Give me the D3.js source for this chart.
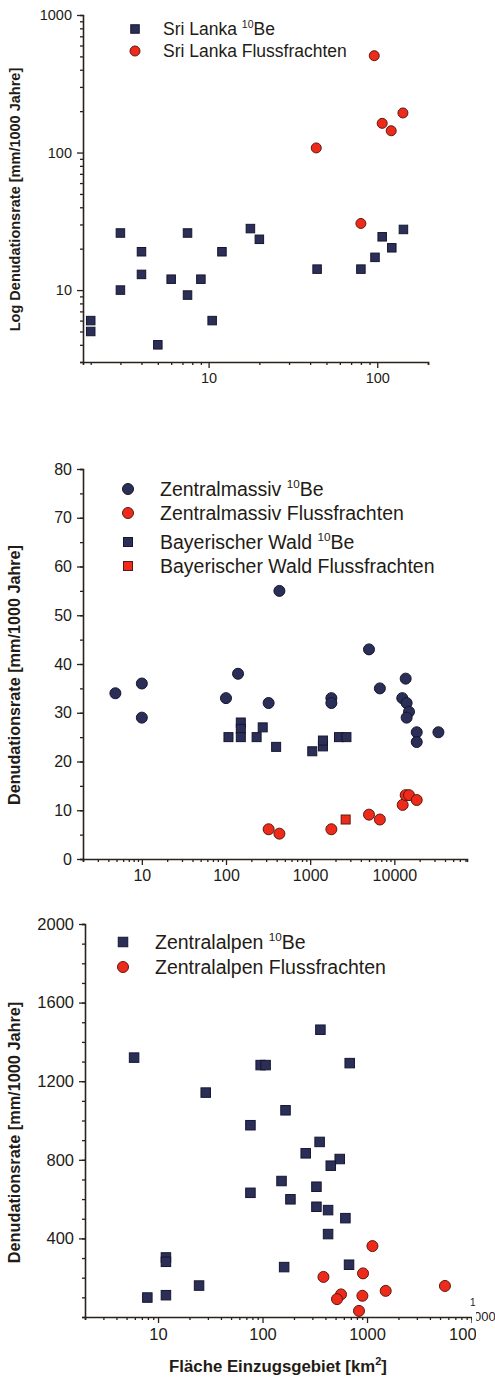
<!DOCTYPE html>
<html>
<head>
<meta charset="utf-8">
<script src="https://cdn.jsdelivr.net/npm/d3@7/dist/d3.min.js"></script>
<style>
  body { margin: 0; background: #fff; }
  svg { display: block; }
  text { font-family: Arial, "Liberation Sans", sans-serif; fill: #231b15; }
</style>
</head>
<body>
<div id="chart"></div>
<script>
// ---- data: [Fläche km², Denudationsrate mm/1000 Jahre] ----
const sriLankaBe = [
  [2.0, 6.0], [2.0, 5.0], [3.0, 26], [3.0, 10], [4.0, 19], [4.0, 13], [5.0, 4.0],
  [6.0, 12], [7.5, 26], [7.5, 9.2], [9.0, 12], [10.5, 6.0], [12, 19], [17.7, 28],
  [20, 23.4], [44, 14.2], [80, 14.2], [97, 17.3], [107, 24.4], [122, 20.3], [143, 27.6]
];
const sriLankaFluss = [
  [80, 30.5], [96, 506], [142, 194], [107, 163], [121, 144], [43.5, 108]
];

const zmBe = [
  [4.85, 34], [10, 36], [10, 29], [100, 33], [139, 38], [431, 55], [5000, 43], [321, 32],
  [1786, 33], [1786, 32], [6730, 35], [13640, 37], [12420, 33], [14000, 32], [14940, 30.2],
  [14000, 29], [18450, 26], [18450, 24], [33400, 26]
];
const zmFluss = [
  [321, 6.1], [431, 5.2], [1786, 6.1], [5000, 9.1], [6730, 8.1],
  [12560, 11.1], [13640, 13.1], [14940, 13.1], [18450, 12.1]
];
const bwBe = [
  [107, 25], [150, 28], [150, 26.7], [150, 25], [231, 25], [273, 27], [394, 23],
  [1059, 22.1], [1418, 23.1], [1418, 24.3], [2200, 25], [2697, 25]
];
const bwFluss = [[2640, 8.1]];

const alpenBe = [
  [5.9, 1320], [28.6, 1142], [358, 1462], [96, 1282], [107, 1282], [683, 1292], [166, 1052],
  [76.6, 976], [7.9, 99], [11.9, 111], [11.9, 303], [11.9, 281], [24.7, 160], [76.6, 632],
  [352, 891], [259, 833], [548, 804], [450, 770], [152, 692], [328, 663], [185, 599],
  [328, 561], [424, 544], [621, 503], [424, 422], [161, 254], [673, 266]
];
const alpenFluss = [
  [1127, 361], [383, 204], [916, 222], [1510, 133], [564, 115], [516, 91],
  [903, 108], [5570, 158], [838, 31]
];

const NAVY = "#2b2f57", NAVY_LINE = "#161630";
const RED = "#ee2a1b", RED_LINE = "#5e1a10";
const AXIS = "#2b2118";

const W = 495, H = 1377;
const svg = d3.select("#chart").append("svg").attr("width", W).attr("height", H);

function label(g, text, x, y, size, anchor) {
  // "¹⁰Be" handled with a raised tspan
  const t = g.append("text").attr("x", x).attr("y", y)
    .attr("font-size", size).attr("text-anchor", anchor || "start");
  const parts = text.split("^10");
  t.append("tspan").text(parts[0]);
  if (parts.length > 1) {
    t.append("tspan").attr("font-size", size * 0.6).attr("dy", -size * 0.4).text("10");
    t.append("tspan").attr("dy", size * 0.4).text(parts[1]);
  }
  return t;
}

function marker(g, shape, x, y, s, fill, line) {
  if (shape === "square") {
    g.append("rect").attr("x", x - s / 2).attr("y", y - s / 2).attr("width", s).attr("height", s)
      .attr("fill", fill).attr("stroke", line).attr("stroke-width", 1);
  } else {
    g.append("circle").attr("cx", x).attr("cy", y).attr("r", s / 2 + 0.5)
      .attr("fill", fill).attr("stroke", line).attr("stroke-width", 1);
  }
}

function panel(cfg) {
  const g = svg.append("g");
  const x = d3.scaleLog().domain(cfg.xDomain).range(cfg.xRange);
  const y = (cfg.yLog ? d3.scaleLog() : d3.scaleLinear()).domain(cfg.yDomain).range(cfg.yRange);
  const isPow = v => Math.abs(Math.log10(v) - Math.round(Math.log10(v))) < 1e-9;

  // x axis: minor + major ticks
  const xTicks = x.ticks();
  const gx = g.append("g").attr("transform", `translate(0,${cfg.yRange[0]})`);
  gx.call(d3.axisBottom(x).tickValues(xTicks.filter(v => !isPow(v))).tickSize(3).tickFormat(""));
  gx.append("g").call(d3.axisBottom(x).tickValues(xTicks.filter(isPow)).tickSize(6)
    .tickPadding(5).tickFormat(d3.format("d")));

  // y axis
  const gy = g.append("g").attr("transform", `translate(${cfg.xRange[0]},0)`);
  let yMinor, yMajor;
  if (cfg.yLog) {
    const yt = y.ticks();
    yMinor = yt.filter(v => !isPow(v));
    yMajor = yt.filter(isPow);
  } else {
    yMinor = d3.range(cfg.yDomain[0], cfg.yDomain[1] + 1e-9, cfg.yMinorStep);
    yMajor = cfg.yMajor;
  }
  gy.call(d3.axisLeft(y).tickValues(yMinor).tickSize(3).tickFormat(""));
  gy.append("g").call(d3.axisLeft(y).tickValues(yMajor).tickSize(6).tickPadding(5)
    .tickFormat(d3.format("d")));

  g.selectAll(".domain").attr("stroke", AXIS).attr("stroke-width", 1.6);
  g.selectAll(".tick line").attr("stroke", AXIS).attr("stroke-width", 1.3);
  g.selectAll(".tick text").attr("font-size", cfg.tickFont).attr("fill", "#231b15")
    .attr("font-family", "Arial, 'Liberation Sans', sans-serif");
  gy.selectAll("g > .domain").filter((d, i) => i > 0).remove();
  gx.selectAll("g > .domain").filter((d, i) => i > 0).remove();

  // y title
  const yc = (cfg.yRange[0] + cfg.yRange[1]) / 2 + cfg.yTitleShift;
  g.append("text").attr("transform", `translate(${cfg.yTitleX},${yc}) rotate(-90)`)
    .attr("text-anchor", "middle").attr("font-weight", "bold").attr("font-size", cfg.yTitleFont)
    .text(cfg.yTitle);

  // points
  cfg.series.forEach(s => {
    s.data.forEach(d => marker(g, s.shape, x(d[0]), y(d[1]), s.size, s.fill, s.line));
  });

  // legend
  cfg.series.filter(s => s.legend).forEach((s, i) => {
    const ly = cfg.legend.rows[i];
    marker(g, s.shape, cfg.legend.mx, ly, s.size, s.fill, s.line);
    label(g, s.legend, cfg.legend.tx, ly + cfg.legend.font * 0.36, cfg.legend.font);
  });
  return { g, x, y };
}

// ---- panel 1: Sri Lanka ----
panel({
  xDomain: [1.8, 200], xRange: [83, 428],
  yLog: true, yDomain: [3, 1000], yRange: [362, 15],
  tickFont: 14.5,
  yTitle: "Log Denudationsrate [mm/1000 Jahre]", yTitleX: 20, yTitleFont: 14.5, yTitleShift: 11,
  series: [
    { data: sriLankaBe, shape: "square", size: 8.5, fill: NAVY, line: NAVY_LINE, legend: "Sri Lanka ^10Be" },
    { data: sriLankaFluss, shape: "circle", size: 9, fill: RED, line: RED_LINE, legend: "Sri Lanka Flussfrachten" }
  ],
  legend: { mx: 135, tx: 163, rows: [29, 51], font: 17.5 }
});

// ---- panel 2: Zentralmassiv / Bayerischer Wald ----
panel({
  xDomain: [2, 73000], xRange: [83, 467],
  yLog: false, yDomain: [0, 80], yRange: [859, 469], yMinorStep: 5,
  yMajor: [0, 10, 20, 30, 40, 50, 60, 70, 80],
  tickFont: 16,
  yTitle: "Denudationsrate [mm/1000 Jahre]", yTitleX: 20, yTitleFont: 16.2, yTitleShift: 11,
  series: [
    { data: zmBe, shape: "circle", size: 10, fill: NAVY, line: NAVY_LINE, legend: "Zentralmassiv ^10Be" },
    { data: zmFluss, shape: "circle", size: 10, fill: RED, line: RED_LINE, legend: "Zentralmassiv Flussfrachten" },
    { data: bwBe, shape: "square", size: 9, fill: NAVY, line: NAVY_LINE, legend: "Bayerischer Wald ^10Be" },
    { data: bwFluss, shape: "square", size: 9, fill: RED, line: RED_LINE, legend: "Bayerischer Wald Flussfrachten" }
  ],
  legend: { mx: 128, tx: 160, rows: [489, 513, 542, 566], font: 19.5 }
});

// ---- panel 3: Zentralalpen ----
const p3 = panel({
  xDomain: [2, 10000], xRange: [85, 471.5],
  yLog: false, yDomain: [0, 2000], yRange: [1317, 924], yMinorStep: 100,
  yMajor: [400, 800, 1200, 1600, 2000],
  tickFont: 16.5,
  yTitle: "Denudationsrate [mm/1000 Jahre]", yTitleX: 20, yTitleFont: 16.3, yTitleShift: 12,
  series: [
    { data: alpenBe, shape: "square", size: 9.5, fill: NAVY, line: NAVY_LINE, legend: "Zentralalpen ^10Be" },
    { data: alpenFluss, shape: "circle", size: 10, fill: RED, line: RED_LINE, legend: "Zentralalpen Flussfrachten" }
  ],
  legend: { mx: 123, tx: 155, rows: [942, 967], font: 19.5 }
});

// x title (bottom panel only)
const xt = p3.g.append("text").attr("x", 278).attr("y", 1372).attr("text-anchor", "middle")
  .attr("font-weight", "bold").attr("font-size", 16.8);
xt.append("tspan").text("Fläche Einzugsgebiet [km");
xt.append("tspan").attr("font-size", 11).attr("dy", -7).text("2");
xt.append("tspan").attr("dy", 7).text("]");

// the scan cuts off the last x label and leaves a stray fragment at the axis end
p3.g.append("rect").attr("x", 476).attr("y", 1324).attr("width", 20).attr("height", 22).attr("fill", "#fff");
p3.g.append("text").attr("x", 470).attr("y", 1306).attr("font-size", 10).text("1");
p3.g.append("text").attr("x", 474).attr("y", 1321).attr("font-size", 13).text("000");
p3.g.append("rect").attr("x", 472).attr("y", 1309).attr("width", 4).attr("height", 14).attr("fill", "#fff");
</script>
</body>
</html>
